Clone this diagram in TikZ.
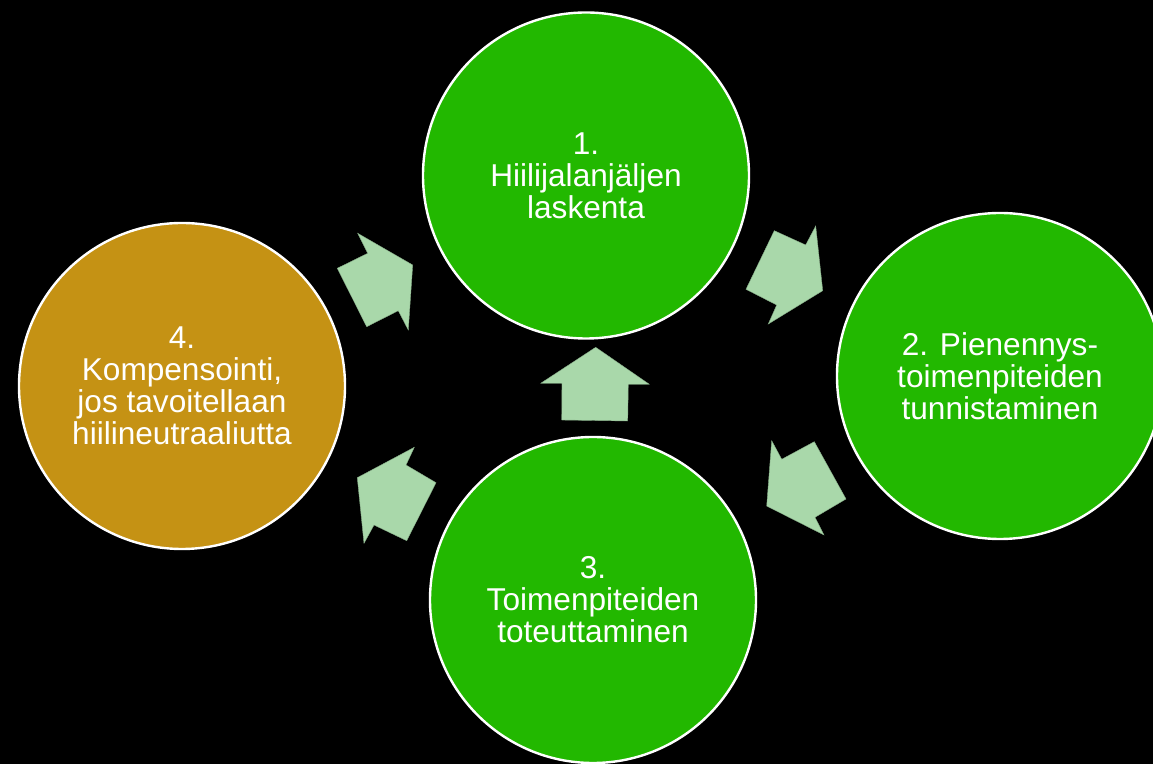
\documentclass[tikz,border=0pt]{standalone}
\usepackage{fontspec}
\setmainfont{Liberation Sans}
\definecolor{cgreen}{HTML}{22B800}
\definecolor{cgold}{HTML}{C59214}
\definecolor{carrow}{HTML}{A9D8AA}
\tikzset{
  stage/.style={circle, draw=white, line width=1.2pt, minimum size=163pt, inner sep=0pt,
    text=white, align=center, font=\fontsize{15.8}{16}\selectfont},
  greenstage/.style={stage, fill=cgreen},
  goldstage/.style={stage, fill=cgold},
  blockarrow/.style={fill=carrow, draw=carrow!80!black, line width=0.2pt}
}
\begin{document}
\begin{tikzpicture}[x=0.5pt,y=-0.5pt]
\fill[black] (0,0) rectangle (1153,764);
\useasboundingbox (0,0) rectangle (1153,764);
\clip (0,0) rectangle (1153,764);
\node[greenstage] (s1) at (586,175.5) {1.\\Hiilijalanjäljen\\laskenta};
\node[greenstage] (s2) at (1000,376) {2. Pienennys-\\toimenpiteiden\\tunnistaminen};
\node[greenstage] (s3) at (593,600) {3.\\Toimenpiteiden\\toteuttaminen};
\node[goldstage] (s4) at (182,386) {4.\\Kompensointi,\\jos tavoitellaan\\hiilineutraaliutta};
% arrow 4 -> 1
\filldraw[blockarrow] (357.7,233.3) -- (367.7,253.3) -- (337.3,268.3) -- (366.7,326.7) -- (398.3,310.7) -- (408.3,330) -- (412.7,265) -- cycle;
% arrow 1 -> 2
\filldraw[blockarrow] (774.3,230.7) -- (805.7,245) -- (815.7,226) -- (822.7,290.7) -- (768.3,324) -- (776.7,305) -- (746,289.3) -- cycle;
% arrow 3 -> 1 (up)
\filldraw[blockarrow] (595.7,347.3) -- (649.3,384.3) -- (628.3,384.3) -- (627.7,421) -- (561.7,420) -- (562,383.3) -- (540.7,383.3) -- cycle;
% arrow 2 -> 3
\filldraw[blockarrow] (771.7,440.7) -- (781.7,459.3) -- (814.3,441.7) -- (846,499) -- (815,517.3) -- (824,535) -- (766.7,506) -- cycle;
% arrow 3 -> 4
\filldraw[blockarrow] (414.3,447.3) -- (406,465) -- (436,482.7) -- (406.7,540.7) -- (374,525) -- (364,543.3) -- (357.3,477.7) -- cycle;
\end{tikzpicture}
\end{document}
